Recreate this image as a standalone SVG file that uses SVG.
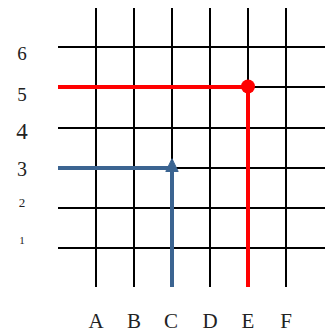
<svg xmlns="http://www.w3.org/2000/svg" width="325" height="333" viewBox="0 0 325 333">
<style>
.grid{stroke:#000;stroke-width:2;fill:none}
.lbl{font-family:"Liberation Serif","DejaVu Serif",serif;fill:#222;text-anchor:middle}
.red{stroke:#ff0000;stroke-width:4;fill:none}
.blue{stroke:#3b6491;stroke-width:4;fill:none}
</style>
<defs>
<marker id="arr" viewBox="0 0 14 14" refX="6" refY="7" markerWidth="14" markerHeight="14" markerUnits="userSpaceOnUse" orient="auto">
<path d="M0.5 0.8 L13.3 7 L0.5 13.2 Z" fill="#3b6491" stroke="#3b6491" stroke-width="1" stroke-linejoin="round"/>
</marker>
</defs>
<rect width="325" height="333" fill="#fff"/>
<g id="grid" class="grid">
<path d="M58 47H325M58 87H325M58 128H325M58 168H325M58 208H325M58 248H325"/>
<path d="M96 8V287M134 8V287M172 8V287M210 8V287M248 8V287M286 8V287"/>
</g>
<g id="rows" class="lbl">
<text x="22" y="60" font-size="19">6</text>
<text x="22" y="101" font-size="19">5</text>
<text x="22" y="139" font-size="23">4</text>
<text x="22" y="176" font-size="20">3</text>
<text x="22" y="207" font-size="13">2</text>
<text x="22" y="244" font-size="11">1</text>
</g>
<g id="cols" class="lbl" font-size="21">
<text x="96" y="328">A</text>
<text x="134" y="328">B</text>
<text x="171" y="328">C</text>
<text x="210" y="328">D</text>
<text x="248" y="328">E</text>
<text x="286" y="328">F</text>
</g>
<g id="connectors">
<g id="red-path">
<path class="red" d="M58 87H248V287"/>
<circle cx="248" cy="86.5" r="7" fill="#ff0000"/>
</g>
<g id="blue-path">
<path class="blue" d="M58 168H172"/>
<path class="blue" d="M172 287V166" marker-end="url(#arr)"/>
</g>
</g>
</svg>
